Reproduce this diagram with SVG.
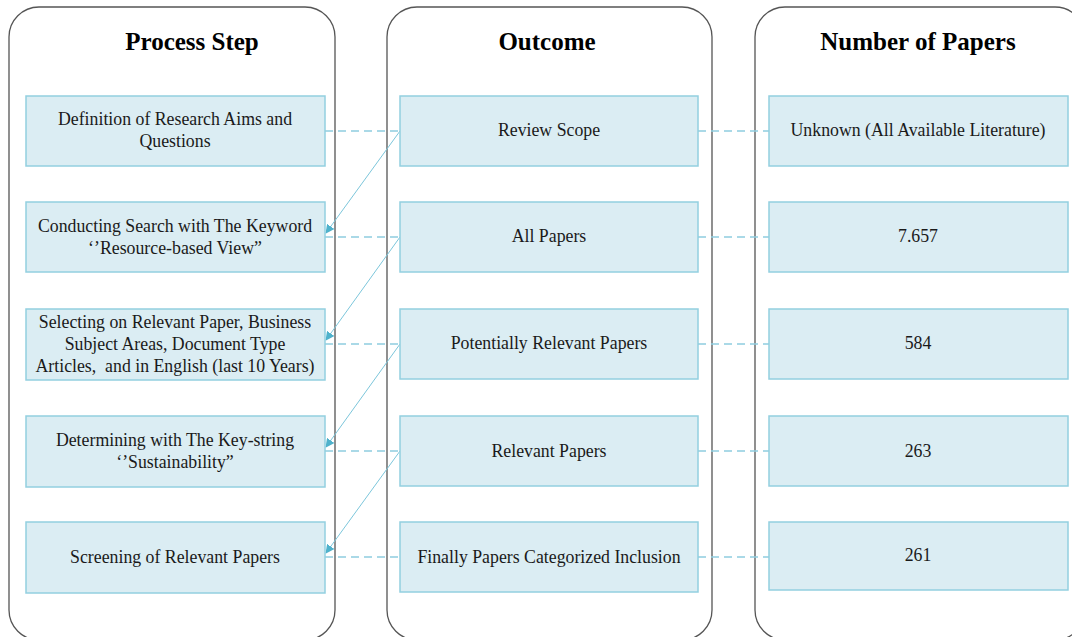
<svg xmlns="http://www.w3.org/2000/svg" width="1072" height="637" viewBox="0 0 1072 637">
<style>
.panel{fill:#fff;stroke:#555;stroke-width:1.3}
.box{fill:#dbedf3;stroke:#93cfe0;stroke-width:1.5}
.hdr{font-family:"Liberation Serif",serif;font-weight:bold;font-size:25px;fill:#000;text-anchor:middle}
.t{font-family:"Liberation Serif",serif;font-size:17.8px;fill:#1a1a1a;text-anchor:middle}
.dash{stroke:#8fcde0;stroke-width:1.3;stroke-dasharray:8,5;fill:none}
.diag{stroke:#7cc6db;stroke-width:1;fill:none;marker-end:url(#ah)}
</style>
<defs>
<marker id="ah" viewBox="0 0 10 10" refX="9" refY="5" markerWidth="9" markerHeight="9" markerUnits="userSpaceOnUse" orient="auto">
<path d="M0,0 L10,5 L0,10 z" fill="#4fb2cc"/>
</marker>
</defs>
<rect width="1072" height="637" fill="#fff"/>
<g id="panels">
<rect id="panel-process" class="panel" x="9" y="7" width="326" height="633" rx="30"/>
<rect id="panel-outcome" class="panel" x="387" y="7" width="325" height="633" rx="30"/>
<rect id="panel-number" class="panel" x="755" y="7" width="330" height="633" rx="30"/>
<text class="hdr" x="192" y="50">Process Step</text>
<text class="hdr" x="547" y="50">Outcome</text>
<text class="hdr" x="918" y="50">Number of Papers</text>
</g>
<g id="connectors">
<line class="dash" x1="325" y1="131" x2="400" y2="131"/>
<line class="dash" x1="325" y1="237" x2="400" y2="237"/>
<line class="dash" x1="325" y1="344" x2="400" y2="344"/>
<line class="dash" x1="325" y1="451" x2="400" y2="451"/>
<line class="dash" x1="325" y1="557" x2="400" y2="557"/>
<line class="dash" x1="698" y1="131" x2="769" y2="131"/>
<line class="dash" x1="698" y1="237" x2="769" y2="237"/>
<line class="dash" x1="698" y1="344" x2="769" y2="344"/>
<line class="dash" x1="698" y1="451" x2="769" y2="451"/>
<line class="dash" x1="698" y1="557" x2="769" y2="557"/>
<line class="diag" x1="400" y1="131" x2="326" y2="233"/>
<line class="diag" x1="400" y1="237" x2="326" y2="340"/>
<line class="diag" x1="400" y1="344" x2="326" y2="447"/>
<line class="diag" x1="400" y1="451" x2="326" y2="553"/>
</g>
<g id="p1"><rect class="box" x="26" y="96" width="299" height="70"/><text class="t" x="175" y="125">Definition of Research Aims and</text><text class="t" x="175" y="147">Questions</text></g>
<g id="p2"><rect class="box" x="26" y="202" width="299" height="70"/><text class="t" x="175" y="232">Conducting Search with The Keyword</text><text class="t" x="175" y="254">‘’Resource-based View”</text></g>
<g id="p3"><rect class="box" x="26" y="309" width="299" height="71"/><text class="t" x="175" y="328">Selecting on Relevant Paper, Business</text><text class="t" x="175" y="350">Subject Areas, Document Type</text><text class="t" x="175" y="372" xml:space="preserve">Articles,  and in English (last 10 Years)</text></g>
<g id="p4"><rect class="box" x="26" y="416" width="299" height="71"/><text class="t" x="175" y="446">Determining with The Key-string</text><text class="t" x="175" y="468">‘’Sustainability”</text></g>
<g id="p5"><rect class="box" x="26" y="522" width="299" height="71"/><text class="t" x="175" y="563">Screening of Relevant Papers</text></g>
<g id="o1"><rect class="box" x="400" y="96" width="298" height="70"/><text class="t" x="549" y="136">Review Scope</text></g>
<g id="o2"><rect class="box" x="400" y="202" width="298" height="70"/><text class="t" x="549" y="242">All Papers</text></g>
<g id="o3"><rect class="box" x="400" y="309" width="298" height="70"/><text class="t" x="549" y="349">Potentially Relevant Papers</text></g>
<g id="o4"><rect class="box" x="400" y="416" width="298" height="70"/><text class="t" x="549" y="457">Relevant Papers</text></g>
<g id="o5"><rect class="box" x="400" y="522" width="298" height="70"/><text class="t" x="549" y="563">Finally Papers Categorized Inclusion</text></g>
<g id="n1"><rect class="box" x="769" y="96" width="299" height="70"/><text class="t" x="918" y="136">Unknown (All Available Literature)</text></g>
<g id="n2"><rect class="box" x="769" y="202" width="299" height="70"/><text class="t" x="918" y="242">7.657</text></g>
<g id="n3"><rect class="box" x="769" y="309" width="299" height="70"/><text class="t" x="918" y="349">584</text></g>
<g id="n4"><rect class="box" x="769" y="416" width="299" height="70"/><text class="t" x="918" y="457">263</text></g>
<g id="n5"><rect class="box" x="769" y="522" width="299" height="68"/><text class="t" x="918" y="561">261</text></g>
</svg>
